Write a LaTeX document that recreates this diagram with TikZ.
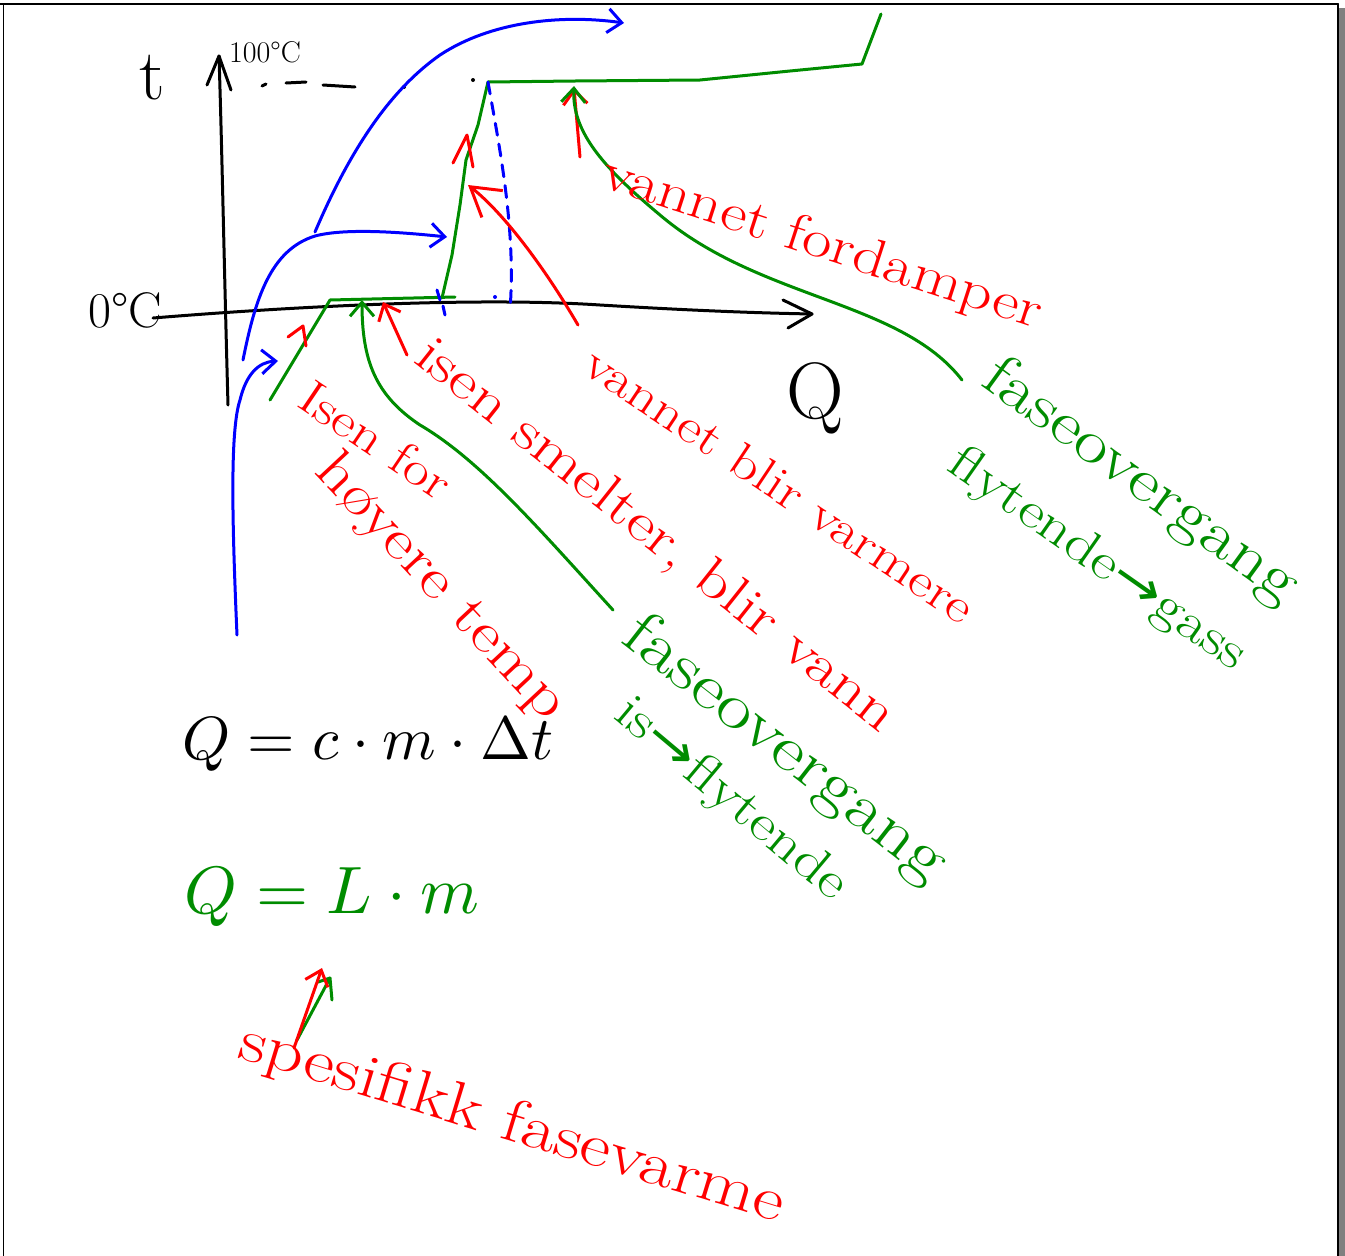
\documentclass[tikz,border=0pt]{standalone}
\usepackage{fontspec}
\newfontfamily\arrowfont{DejaVu Sans}
\usetikzlibrary{arrows.meta}
\definecolor{penred}{RGB}{255,0,0}
\definecolor{pengreen}{RGB}{0,140,0}
\definecolor{penblue}{RGB}{0,0,255}
\newcommand{\rarr}{{\arrowfont →}}
\begin{document}
\begin{tikzpicture}[x=1pt,y=-1pt,line cap=round,line join=round,
  ink/.style={line width=3pt},
  blackink/.style={ink,draw=black},
  redink/.style={ink,draw=penred},
  greenink/.style={ink,draw=pengreen},
  blueink/.style={ink,draw=penblue},
  barb/.style={-{Straight Barb[length=14pt,width=24pt,line width=3pt]}},
  lbl/.style={inner sep=0pt,anchor=center},
  fs/.style={font=\fontsize{#1}{#1}\selectfont},
  hw/.style={font=\fontsize{#1}{#1}\selectfont}
]
\useasboundingbox (0,0) rectangle (1345,1256);
\fill[white] (0,0) rectangle (1345,1256);
% frame
\fill[gray] (1338,8) rectangle (1345,1256);
\draw[line width=2pt] (0,4) -- (1338,4);
\draw[line width=1.5pt] (1338,4) -- (1338,1256);
\draw[line width=1pt] (3,4) -- (3,1256);

% axes
\coordinate (tbot) at (228,405);
\coordinate (ttop) at (219,56);
\draw[blackink] (tbot) .. controls (224,260) and (222,150) .. (ttop);
\draw[blackink] (207,85) -- (ttop) -- (231,90);
\coordinate (qleft) at (153,318);
\coordinate (qright) at (812,314);
\draw[blackink] (qleft) .. controls (300,306) and (480,297) .. (600,305) .. controls (700,311) and (760,313) .. (qright);
\draw[blackink] (783,300) -- (qright) -- (788,328);
\node[lbl,fs=72] (tlab) at (152,78) {t};
\node[lbl,fs=30] (hundred) at (265,52) {100\textdegree C};
\node[lbl,fs=50] (zero) at (125,310) {0\textdegree C};
\node[lbl,fs=80] (qlab) at (815,398) {Q};
% dashed 100 line
\draw[blackink] (262,86) -- (266,84);
\draw[blackink] (286,83) -- (306,82);
\draw[blackink] (323,85) -- (355,87);
\fill (404,87) circle (2pt);
\fill (473,80) circle (2pt);

% green heating curve
\coordinate (g0) at (270,400);
\coordinate (g1) at (330,300);
\coordinate (g2) at (455,297);
\coordinate (g3) at (442,298);
\coordinate (g4) at (488,82);
\coordinate (g5) at (862,64);
\coordinate (g6) at (881,14);
\draw[greenink] (g0) -- (g1) -- (g2);
\draw[greenink] (g3) -- (452,255) -- (460,205) -- (466,160) -- (478,125) -- (g4);
\draw[greenink] (g4) -- (575,81) -- (700,80) -- (790,71) -- (g5) -- (g6);

% blue dashed
\draw[blueink,dash pattern=on 12pt off 9pt] (g4) .. controls (500,150) and (516,230) .. (510,310);
\draw[blueink] (437,290) -- (440,300);
\draw[blueink] (443,306) -- (445,315);
\fill[penblue] (495,297) circle (2pt);

% blue curves
\coordinate (b0) at (237,635);
\coordinate (b1) at (278,361);
\draw[blueink,barb] (b0) .. controls (232,520) and (230,430) .. (240,400) .. controls (246,375) and (258,362) .. (b1);
\coordinate (b2) at (243,360);
\coordinate (b3) at (447,237);
\draw[blueink,barb] (b2) .. controls (255,300) and (270,250) .. (315,236) .. controls (345,228) and (400,232) .. (b3);
\coordinate (b4) at (315,232);
\coordinate (b5) at (624,23);
\draw[blueink,barb] (b4) .. controls (350,150) and (390,90) .. (440,55) .. controls (490,22) and (560,14) .. (b5);

% red arrows
\coordinate (r0) at (580,157);
\coordinate (r1) at (574,88);
\draw[redink,barb] (r0) -- (r1);
\coordinate (r2) at (578,325);
\coordinate (r3) at (468,185);
\draw[redink,-{Straight Barb[length=28pt,width=34pt,line width=3pt]}] (r2) .. controls (540,260) and (500,210) .. (r3);
\draw[redink] (453,163) -- (467,135) -- (473,167);
\coordinate (r4) at (407,355);
\coordinate (r5) at (383,302);
\draw[redink,barb] (r4) -- (r5);
\draw[redink] (288,337) -- (303,326) -- (306,346);

% green arrows
\coordinate (gA0) at (962,380);
\coordinate (gA1) at (574,86);
\draw[greenink,barb] (gA0) .. controls (900,300) and (760,300) .. (660,215) .. controls (600,165) and (572,130) .. (gA1);
\coordinate (gB0) at (613,610);
\coordinate (gB1) at (362,300);
\draw[greenink,barb] (gB0) .. controls (540,530) and (480,460) .. (420,425) .. controls (375,395) and (362,360) .. (gB1);

% labels
\node[lbl,hw=53,text=penred,rotate=-18,xscale=1.22] (vf) at (822,245) {vannet fordamper};
\node[lbl,hw=48,text=penred,rotate=-33.7,xscale=1.22] (vbv) at (780,485) {vannet blir varmere};
\node[lbl,hw=54,text=penred,rotate=-38.5,xscale=1.25] (ism) at (655,537) {isen smelter, blir vann};
\node[lbl,hw=48,text=penred,rotate=-34,xscale=1.2] (isf) at (376,440) {Isen for};
\node[lbl,hw=57,text=penred,rotate=-47,xscale=1.22] (ht) at (440,588) {høyere temp};
\node[lbl,hw=61,text=pengreen,rotate=-36,xscale=1.22] (fo1) at (1140,482) {faseovergang};
\node[lbl,hw=51,text=pengreen,rotate=-35,xscale=1.22] (fg) at (1097,560) {flytende\rarr gass};
\node[lbl,hw=64,text=pengreen,rotate=-38,xscale=1.22] (fo2) at (784,750) {faseovergang};
\node[lbl,hw=51,text=pengreen,rotate=-40,xscale=1.22] (isfl) at (731,800) {is\rarr flytende};
\node[lbl,scale=6.1] (eq1) at (368,745) {$Q = c\cdot m\cdot \Delta t$};
\node[lbl,scale=6.7,text=pengreen] (eq2) at (332,897) {$Q = L\cdot m$};
\node[lbl,hw=61,text=penred,rotate=-17,xscale=1.22] (sf) at (512,1125) {spesifikk fasevarme};

% arrow to L
\coordinate (s0) at (294,1048);
\coordinate (s1) at (322,968);
\draw[greenink] (297,1040) -- (330,978) -- (332,1000);
\draw[greenink] (318,982) -- (330,978);
\draw[redink,barb] (s0) -- (s1);
\end{tikzpicture}
\end{document}
